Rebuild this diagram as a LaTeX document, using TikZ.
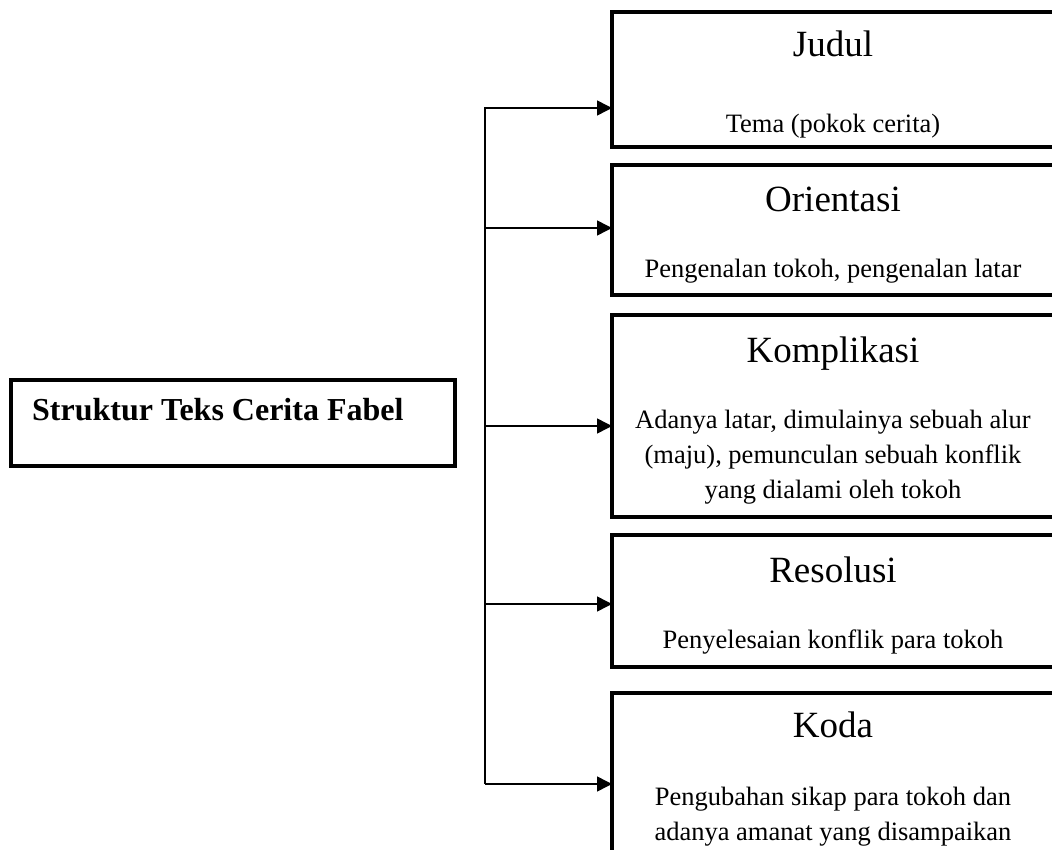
\documentclass[tikz,border=0pt]{standalone}
\usepackage{fontspec}
\setmainfont{Liberation Serif}
\usetikzlibrary{arrows.meta}
\begin{document}
\begin{tikzpicture}[x=1pt,y=-1pt,
  box/.style={draw, line width=3.5pt, inner sep=0pt, outer sep=0pt, rectangle, anchor=north west},
  conn/.style={line width=1.5pt},
  arr/.style={conn, -{Triangle[length=15pt,width=15pt]}},
  ttl/.style={anchor=base, inner sep=0pt, font=\fontsize{37}{44}\selectfont},
  body/.style={anchor=base, inner sep=0pt, align=center, font=\fontsize{26.5}{35}\selectfont}]
\useasboundingbox (0,0) rectangle (1052,850);
\clip (0,0) rectangle (1052,850);

% boxes
\node[box, minimum width=444pt, minimum height=86pt] (struktur) at (11,380) {};
\node[box, minimum width=445pt, minimum height=135pt] (judul) at (612,12) {};
\node[box, minimum width=445pt, minimum height=130pt] (orientasi) at (612,165) {};
\node[box, minimum width=445pt, minimum height=202pt] (komplikasi) at (612,315) {};
\node[box, minimum width=445pt, minimum height=132pt] (resolusi) at (612,535) {};
\node[box, minimum width=445pt, minimum height=200pt] (koda) at (612,693) {};

% texts (multi-line nodes: base = baseline of last line)
\node[anchor=base west, inner sep=0pt, font=\fontsize{32}{38}\selectfont\bfseries] (strukturtext) at (32,420) {Struktur Teks Cerita Fabel};
\node[ttl] (tjudul) at (833,57) {Judul};
\node[body] (bjudul) at (833,133) {Tema (pokok cerita)};
\node[ttl] (torientasi) at (833,212) {Orientasi};
\node[body] (borientasi) at (833,278) {Pengenalan tokoh, pengenalan latar};
\node[ttl] (tkomplikasi) at (833,362) {Komplikasi};
\node[body] (bkomplikasi) at (833,498) {Adanya latar, dimulainya sebuah alur\\(maju), pemunculan sebuah konflik\\yang dialami oleh tokoh};
\node[ttl] (tresolusi) at (833,582) {Resolusi};
\node[body] (bresolusi) at (833,648) {Penyelesaian konflik para tokoh};
\node[ttl] (tkoda) at (833,737) {Koda};
\node[body] (bkoda) at (833,840) {Pengubahan sikap para tokoh dan\\adanya amanat yang disampaikan};

% connectors
\coordinate (b1) at (485,108);
\coordinate (b2) at (485,228);
\coordinate (b3) at (485,426);
\coordinate (b4) at (485,604);
\coordinate (b5) at (485,784);
\draw[conn] (b1) -- (b5);
\draw[arr] ([xshift=-1pt]b1) -- (b1 -| judul.west);
\draw[arr] (b2) -- (b2 -| orientasi.west);
\draw[arr] (b3) -- (b3 -| komplikasi.west);
\draw[arr] (b4) -- (b4 -| resolusi.west);
\draw[arr] (b5) -- (b5 -| koda.west);
\end{tikzpicture}
\end{document}
